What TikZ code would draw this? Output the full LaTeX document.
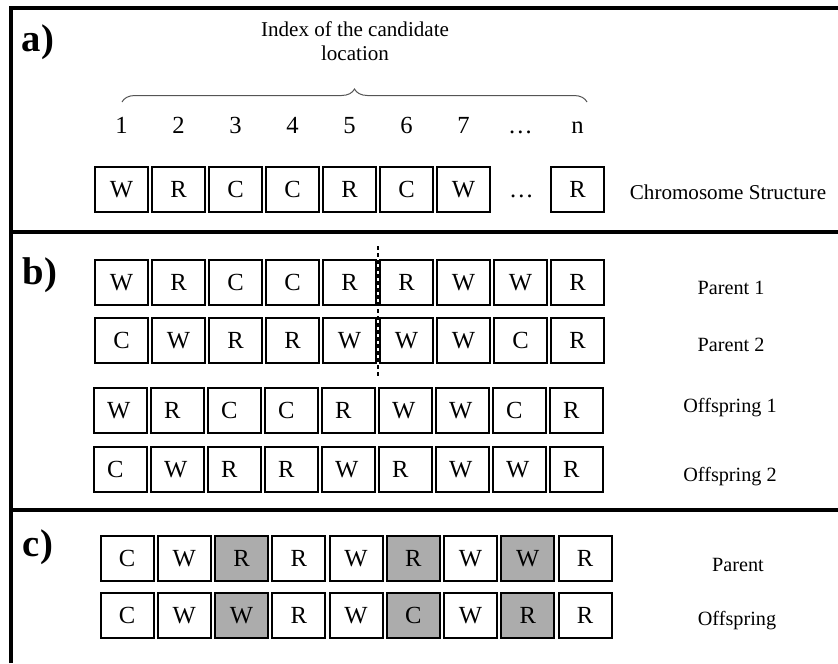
\documentclass[tikz,border=0pt]{standalone}
\usepackage{fontspec}
\setmainfont{Liberation Serif}
\usetikzlibrary{positioning,calc,decorations.pathreplacing}
\definecolor{GeneGray}{RGB}{172,172,172}
\definecolor{BraceGray}{RGB}{85,85,85}
\tikzset{
  gene/.style={draw,line width=0.4mm,minimum width=10.6mm,
               minimum height=9mm,inner sep=0pt,
               text height=3.3mm,text depth=0mm,
               font=\fontsize{14}{16}\selectfont},
  geneleft/.style={gene,text width=5.4mm,inner xsep=2.4mm,align=left},
  idx/.style={text height=3.3mm,text depth=0mm,
              font=\fontsize{14}{16}\selectfont},
  rowlabel/.style={font=\fontsize{11.5}{13}\selectfont},
  panel/.style={font=\bfseries\fontsize{22}{24}\selectfont},
  frame/.style={line width=0.7mm}
}

\begin{document}
\begin{tikzpicture}[x=0.2mm,y=-0.2mm]
  \useasboundingbox (0,0) rectangle (838,663);
  %% Frame and panel dividers
  \draw[frame](11,663)--(11,8)--(838,8);
  \draw[frame](11,232)--(838,232);
  \draw[frame](11,510)--(838,510);
  \node[panel] (pa) at (38,42){a)};
  \node[panel] (pb) at (40,275){b)};
  \node[panel] (pc) at (38,547){c)};

  %% a) chromosome structure
  \node[align=center,font=\fontsize{12}{13.7}\selectfont] (title) at (355,41)
       {Index of the candidate\\location};
  \coordinate (braceL) at (122,102);
  \coordinate (braceR) at (587,102);
  \draw[BraceGray,line width=0.2mm,decorate,
        decoration={brace,amplitude=2.6mm}](braceL)--(braceR);
  \foreach \l [count=\i] in {1,2,3,4,5,6,7,\ldots,n}
    \node[idx] (n\i) at ({121.5+57*(\i-1)},125){\l};
  \foreach \l [count=\i] in {W,R,C,C,R,C,W}
    \node[gene] (a\i) at ({121.5+57*(\i-1)},189.5){\l};
  \node[idx] (a8) at (521.5,189.5){\ldots};
  \node[gene] (a9) at (577.5,189.5){R};
  \node[font=\fontsize{12}{14}\selectfont] (chrom) at (728,192)
       {Chromosome Structure};

  %% b) crossover: two parents, two offspring
  \foreach \l [count=\i] in {W,R,C,C,R,R,W,W,R}
    \node[gene] (p1\i) at ({121.5+57*(\i-1)},282.5){\l};
  \foreach \l [count=\i] in {C,W,R,R,W,W,W,C,R}
    \node[gene] (p2\i) at ({121.5+57*(\i-1)},340.5){\l};
  \foreach \l [count=\i] in {W,R,C,C,R,W,W,C,R}
    \node[geneleft] (o1\i) at ({120.5+57*(\i-1)},410.5){\l};
  \foreach \l [count=\i] in {C,W,R,R,W,R,W,W,R}
    \node[geneleft] (o2\i) at ({120.5+57*(\i-1)},469.5){\l};
  %% crossover point between genes 5 and 6
  \coordinate (cutT) at ($(p15.north east)!0.5!(p16.north west)+(0,-13)$);
  \coordinate (cutB) at ($(p25.south east)!0.5!(p26.south west)+(0,12)$);
  \draw[line width=0.25mm,dash pattern=on 0.8mm off 0.6mm](cutT)--(cutB);
  \node[rowlabel] (lp1) at (731,288){Parent 1};
  \node[rowlabel] (lp2) at (731,345){Parent 2};
  \node[rowlabel] (lo1) at (730,408){Offspring 1};
  \node[rowlabel] (lo2) at (730,477){Offspring 2};

  %% c) mutation: shaded genes change
  \foreach \l/\f [count=\i] in {C/white,W/white,R/GeneGray,R/white,W/white,
                                R/GeneGray,W/white,W/GeneGray,R/white}
    \node[gene,fill=\f] (m1\i) at ({127+57.25*(\i-1)},558){\l};
  \foreach \l/\f [count=\i] in {C/white,W/white,W/GeneGray,R/white,W/white,
                                C/GeneGray,W/white,R/GeneGray,R/white}
    \node[gene,fill=\f] (m2\i) at ({127+57.25*(\i-1)},615.5){\l};
  \node[rowlabel] (lm1) at (738,565){Parent};
  \node[rowlabel] (lm2) at (737,621){Offspring};
\end{tikzpicture}
\end{document}
